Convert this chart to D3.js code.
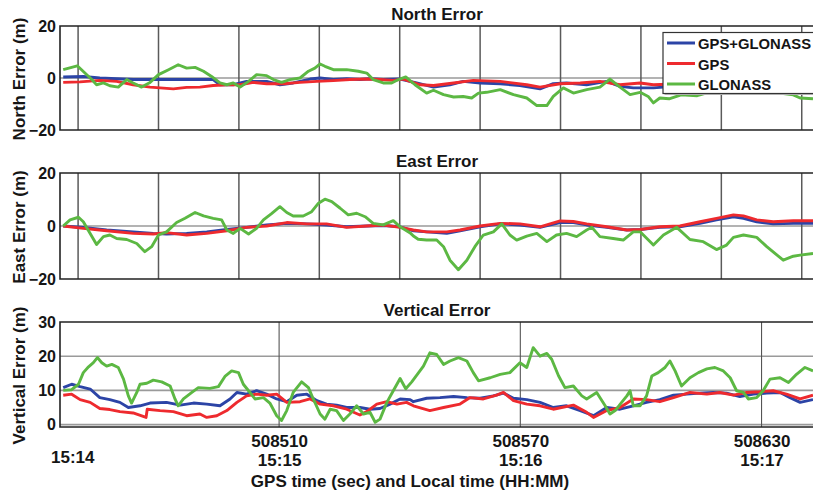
<!DOCTYPE html>
<html>
<head>
<meta charset="utf-8">
<script src="https://cdn.jsdelivr.net/npm/d3@7"></script>
<style>
body { margin: 0; background: #fff; }
svg text { font-family: "Liberation Sans", Arial, Helvetica, sans-serif; font-weight: bold; fill: #151515; }
</style>
</head>
<body>
<svg id="chart" width="813" height="492"></svg>
<script>
// GPS seconds are stored as offsets from T0
var T0 = 508455;

var seriesNames = ["GPS+GLONASS", "GPS", "GLONASS"];
var seriesColors = ["#2c44a6", "#ee2a2e", "#5cb843"];

var xTicks = [508510, 508570, 508630];
var localTimes = ["15:15", "15:16", "15:17"];
var firstLocalTime = "15:14";
var gridTimes20 = [508460, 508480, 508500, 508520, 508540, 508560, 508580, 508600, 508620, 508640];

// North error (m)
var northBoth = [[1.3,0.4],[6.3,0.6],[10.4,0],[14.6,-0.3],[18.7,-0.6],[22.9,-0.6],[25.4,-0.6],[32,-0.6],[38.6,-0.6],
  [40.3,-2.6],[43.6,-2.6],[46.9,-1.3],[51.9,-1.3],[55.2,-2.6],[58.5,-1.9],[62.7,-0.4],[65.2,0],[68.5,-0.6],[71.8,-0.3],
  [75.1,-0.6],[77.6,-0.3],[80.9,-0.6],[85.1,-0.4],[89.2,-1.9],[93.4,-3.5],[97.5,-2.6],[100.8,-1.3],[105,-1.9],[110,-2.2],
  [114.9,-2.9],[119.9,-4.2],[123.2,-2.2],[126.5,-1.9],[131.5,-2.6],[136.5,-1.3],[139.8,-3.2],[143.1,-3.8],[148.1,-3.8],
  [155,-3.0],[165,-2.5],[175,-3.0],[187.8,-2.5]];
var northGps = [[1.3,-1.7],[5.5,-1.5],[10.4,-0.9],[14.6,-1.3],[18.7,-2.6],[22.9,-3.5],[28.7,-4.2],[32,-3.6],[35.3,-3.5],
  [38.6,-2.9],[42,-2.6],[45.3,-2.6],[48.6,-1.7],[51.9,-2.2],[56.1,-2.2],[60.2,-1.7],[64.4,-1.3],[68.5,-1.0],[72.6,-0.6],
  [76.8,-0.4],[80.1,-0.6],[83.4,-0.9],[85.9,-0.4],[90.1,-2.6],[93.4,-2.9],[98.4,-1.9],[103.3,-0.9],[110,-1.3],[116.6,-2.6],
  [119.9,-3.5],[124.9,-2.2],[129.9,-1.9],[134.8,-1.3],[139.8,-2.6],[144.8,-1.9],[148.1,-2.6],[155,-2.2],[165,-2.0],
  [175,-2.4],[187.8,-2.0]];
var northGlo = [[1.3,3.2],[4.8,4.7],[8.4,-0.6],[9.6,-2.6],[11.3,-1.9],[12.9,-3.0],[15,-3.5],[17.1,-0.6],[18.7,-1.9],
  [20.8,-3.5],[22.9,-1.7],[25,1.3],[27.5,3.2],[29.9,5.1],[32,3.8],[34.1,4.1],[36.2,2.6],[38.2,0.6],[40.3,-1.9],[42,-2.6],
  [43.6,-1.9],[45.3,-3.5],[47.4,-1.3],[49.4,1.3],[51.9,0.9],[53.6,-0.6],[55.6,-1.7],[57.7,-0.6],[60.2,0],[62.3,2.6],
  [63.9,3.8],[65.2,5.4],[66.4,4.5],[68.5,3.2],[71.8,3.2],[74.7,2.6],[76.8,1.9],[78.4,-0.6],[80.9,-1.9],[83,-1.9],
  [84.7,-0.6],[86.5,0.4],[88.8,-2.6],[91.7,-5.8],[93.4,-4.7],[95.9,-6.4],[98.4,-7.3],[100.8,-7.1],[102.9,-7.7],
  [104.6,-5.8],[106.6,-5.5],[110,-4.5],[113.3,-6.4],[116.6,-7.7],[119.1,-10.6],[121.6,-10.6],[123.2,-7.1],[125.7,-3.8],
  [128.2,-5.8],[131.5,-4.5],[134.8,-3.5],[137.3,-0.4],[139.8,-3.5],[142.3,-6.4],[144.8,-5.5],[146.8,-7.1],[148.1,-9.6],
  [149.7,-7.7],[152,-8.0],[155,-6.5],[159,-6.8],[163,-5.0],[168,-4.5],[173,-5.0],[178,-5.5],[182.9,-6.5],[184.6,-7.7],
  [187.8,-8.0]];

// East error (m)
var eastBoth = [[1.3,0],[6.3,-0.5],[12.1,-1.5],[18.7,-2.2],[23.7,-2.8],[27,-3.0],[32,-2.8],[37,-2.2],[42,-1.3],
  [46.9,-0.5],[51.9,0.4],[56.9,1.0],[61.9,0.8],[66.8,0.4],[71.8,-0.3],[76.8,0],[80.9,0.2],[85.1,-0.3],[88.4,-1.8],
  [91.7,-2.2],[96.7,-2.8],[100,-1.8],[105,-0.3],[110,0.8],[114.9,0.4],[119.9,-0.5],[124.9,1.3],[128.2,1.3],[131.5,0.4],
  [136.5,-0.5],[141.5,-1.5],[144.8,-1.3],[149.7,-0.5],[154.7,-0.3],[159.7,1.0],[163.8,2.3],[168,3.5],[170.5,2.9],
  [173.8,1.6],[177.9,0.8],[182.9,1.0],[187.8,1.0]];
var eastGps = [[1.3,0],[6.3,-0.9],[12.1,-1.8],[18.7,-2.8],[23.7,-3.0],[27,-2.5],[32,-3.4],[37,-2.8],[42,-1.8],
  [46.9,-0.5],[51.9,0],[56.9,1.3],[61.9,0.8],[66.8,0.8],[71.8,-0.5],[76.8,0],[80.9,0.4],[85.1,-0.5],[88.4,-1.5],
  [91.7,-2.2],[96.7,-2.2],[100,-1.5],[105,0],[110,1.0],[114.9,0.8],[119.9,-0.3],[124.9,1.9],[128.2,1.7],[131.5,0.8],
  [136.5,-0.3],[141.5,-1.5],[144.8,-1.3],[149.7,-0.3],[154.7,0],[159.7,1.6],[163.8,2.9],[168,4.2],[170.5,3.8],
  [173.8,2.3],[177.9,1.6],[182.9,2.0],[187.8,2.0]];
var eastGlo = [[1.3,0],[3,2.3],[5.1,3.3],[6.3,1.6],[8,-2.8],[9.6,-7.0],[11.3,-4.0],[12.9,-3.4],[14.6,-4.7],[17.1,-5.1],
  [19.6,-6.6],[21.6,-9.7],[23.3,-7.8],[25,-3.4],[27,-2.2],[29.5,1.3],[31.6,2.9],[34.1,5.1],[36.2,3.8],[38.6,2.9],
  [40.7,2.3],[42,-1.5],[43.6,-2.8],[45.3,-0.9],[47.4,-3.0],[49.4,-0.9],[51.1,2.3],[53.2,4.8],[55.2,7.3],[56.9,5.1],
  [58.5,3.8],[61,3.8],[63.1,5.4],[64.8,8.6],[66.4,10.1],[68.1,9.2],[70.2,6.7],[72.2,4.2],[74.3,4.8],[76.4,3.5],
  [78.4,1.0],[80.9,0.4],[83.4,2.0],[85.1,-0.3],[87.6,-2.6],[88.4,-3.8],[89.6,-5.0],[91.7,-5.3],[94.2,-5.3],[95.9,-7.8],
  [97.5,-12.9],[99.6,-16.5],[101.7,-12.9],[103.7,-7.8],[105.8,-3.4],[108.3,-2.2],[110.4,0.8],[112.4,-3.4],[114.1,-5.3],
  [116.6,-3.8],[119.1,-2.8],[121.6,-5.9],[124,-3.4],[126.5,-2.8],[129,-4.0],[131.5,-1.5],[132.8,-0.5],[134.8,-4.0],
  [138.1,-4.7],[140.6,-5.3],[143.1,-2.2],[144.8,-2.2],[148.1,-7.2],[150.6,-3.4],[153.9,-0.5],[157.2,-5.1],[160.5,-5.9],
  [163.8,-8.9],[166.3,-7.2],[168,-4.3],[170.5,-3.4],[173.8,-4.3],[176.3,-7.8],[180.4,-12.9],[182.9,-11.4],[184.6,-11.0],
  [187.8,-10.4]];

// Vertical error (m)
var vertBoth = [[1.3,10.8],[3.4,11.8],[5.5,11.1],[8,10.4],[10.4,7.9],[12.9,7.3],[15.4,6.5],[17.5,5.0],[20.4,5.5],
  [22.9,6.3],[27,6.5],[30.4,5.7],[33.7,6.3],[37,6.0],[40.3,5.5],[42.8,7.5],[44.5,9.4],[46.9,8.9],[49.4,9.9],[51.9,8.9],
  [54.4,7.5],[56.9,6.7],[59.4,8.6],[61.9,8.9],[64.4,7.0],[66.8,6.0],[69.3,5.7],[71.8,5.0],[75.1,5.0],[77.6,4.5],
  [80.1,4.7],[82.6,6.0],[85.1,7.5],[87.6,7.3],[88.4,6.7],[91.7,7.7],[95,7.9],[98.4,8.2],[101.7,7.9],[105,7.7],[108.3,8.4],
  [110.8,9.2],[113.3,7.7],[116.6,7.3],[119.9,6.5],[123.2,5.0],[126.5,5.5],[129.9,4.1],[133.2,2.6],[136.5,5.0],
  [139.8,4.5],[143.1,5.5],[146.4,6.5],[149.7,7.3],[153.1,8.6],[156.4,8.9],[159.7,9.2],[163,9.4],[166.3,9.2],[169.6,8.2],
  [173,8.9],[176.3,9.2],[179.6,9.4],[182.1,7.9],[184.6,6.5],[187.8,7.3]];
var vertGps = [[1.3,8.6],[3.4,8.9],[5.5,7.3],[8,6.5],[10.4,4.7],[12.9,4.4],[15.4,3.8],[18.7,3.4],[21.9,2.1],[22.2,4.5],
  [25.4,4.1],[28.7,3.8],[32,2.6],[35.3,3.1],[37,2.1],[39.5,2.6],[42,4.1],[44.5,6.5],[46.9,8.4],[49.4,8.9],[51.9,8.6],
  [54.4,8.9],[56.9,6.5],[60.2,6.7],[62.7,7.5],[65.2,6.0],[68.5,5.5],[71.8,4.5],[75.1,2.8],[76.8,3.8],[79.3,6.0],
  [81.8,6.7],[84.3,6.0],[86.7,6.5],[88.4,5.5],[92.5,4.1],[95.9,5.0],[100,6.0],[102.5,7.9],[105.8,7.5],[109.1,8.6],
  [110.8,9.4],[113.3,7.0],[116.6,6.0],[119.9,5.5],[123.2,4.5],[128.2,5.7],[131.5,3.6],[133.2,2.1],[136.5,4.1],
  [139.8,5.0],[143.1,7.5],[146.4,7.3],[149.7,6.7],[153.1,7.9],[157.2,9.4],[161.4,8.9],[164.6,9.4],[168,8.6],[171.3,9.4],
  [174.6,9.6],[177.9,9.9],[181.2,8.9],[184.6,7.5],[187.8,8.6]];
var vertGlo = [[1.3,10.0],[3.4,10.2],[5.1,11.8],[6.3,15.2],[7.6,16.9],[8.8,18.1],[9.8,19.6],[10.9,18.1],[12.1,17.1],
  [13.4,17.6],[15,16.7],[16.3,13.3],[17.5,8.4],[18.3,6.3],[19.6,9.4],[20.4,11.8],[22.1,12.1],[23.7,13.0],[25.8,12.5],
  [27.9,11.3],[29.1,7.5],[29.9,5.5],[31.2,7.5],[33.3,9.4],[34.9,10.8],[37.8,10.6],[39.9,11.1],[41.6,14.2],[43.2,15.7],
  [44.9,15.2],[46.1,11.8],[47.4,9.9],[49,7.5],[51.1,7.9],[52.7,6.3],[54.4,2.6],[55.6,1.2],[56.9,4.1],[58.5,9.4],
  [60.6,12.5],[62.3,10.8],[63.5,7.5],[65.2,3.1],[66.4,1.6],[67.7,4.5],[69.3,4.1],[71,1.2],[72.6,3.1],[74.3,5.5],
  [76,3.1],[77.6,3.6],[78.9,0.7],[80.1,1.6],[81.8,6.5],[83.4,9.9],[85.1,13.5],[86.5,10.5],[88,12.5],[90.9,17.1],
  [92.5,21.0],[94.2,20.5],[95.9,17.6],[97.5,18.6],[99.6,19.6],[101.7,18.6],[103.3,15.2],[104.6,12.8],[107.5,13.7],
  [110,14.7],[112.4,15.2],[114.9,18.1],[116.6,16.7],[118.2,22.5],[119.9,20.0],[121.6,20.8],[122.8,19.1],[124.5,14.3],
  [126.1,10.8],[128.2,11.3],[130.3,8.4],[131.5,7.5],[134,9.4],[136.1,5.5],[137.3,3.1],[138.6,4.1],[140.2,6.5],
  [141.5,8.4],[142.3,9.9],[143.1,5.5],[144.8,5.5],[146.4,8.4],[147.7,14.2],[149.3,15.2],[151,16.7],[152.2,18.6],
  [153.5,15.7],[155.1,11.3],[157.2,13.7],[159.3,15.2],[161.4,16.3],[163.4,16.7],[165.5,15.7],[167.2,13.7],[168.8,9.9],
  [170.5,9.4],[171.7,7.5],[173.8,7.9],[175.4,9.9],[177.1,13.3],[179.6,13.7],[181.7,12.3],[183.7,14.7],[185.8,16.7],
  [187.8,15.7]];

var panels = [
  { title: "North Error", ylabel: "North Error (m)", top: 26, bottom: 130, domain: [-20, 20],
    yticks: [-20, 0, 20], hgrid: [0], vgrid: gridTimes20, series: [northBoth, northGps, northGlo] },
  { title: "East Error", ylabel: "East Error (m)", top: 173, bottom: 279, domain: [-20, 20],
    yticks: [-20, 0, 20], hgrid: [0], vgrid: gridTimes20, series: [eastBoth, eastGps, eastGlo] },
  { title: "Vertical Error", ylabel: "Vertical Error (m)", top: 322, bottom: 427, domain: [-0.7, 30],
    yticks: [0, 10, 20, 30], hgrid: [0, 10, 20], vgrid: xTicks, series: [vertBoth, vertGps, vertGlo] }
];

var svg = d3.select("#chart");
var left = 60, right = 830;

var x = d3.scaleLinear()
    .domain([T0 + 0.5, T0 + 187.8])
    .range([60, 813]);

panels.forEach(function(p, i) {
    var y = d3.scaleLinear().domain(p.domain).range([p.bottom, p.top]);
    var g = svg.append("g");

    g.append("clipPath").attr("id", "clip" + i)
        .append("rect")
        .attr("x", left).attr("y", p.top)
        .attr("width", right - left).attr("height", p.bottom - p.top);

    // grid
    g.append("g").selectAll("line")
        .data(p.hgrid)
        .enter().append("line")
        .attr("x1", left).attr("x2", right)
        .attr("y1", function(d) { return y(d); })
        .attr("y2", function(d) { return y(d); })
        .attr("stroke", "#9a9a9a")
        .attr("stroke-width", 1.6);

    g.append("g").selectAll("line")
        .data(p.vgrid)
        .enter().append("line")
        .attr("x1", function(d) { return x(d); })
        .attr("x2", function(d) { return x(d); })
        .attr("y1", p.top).attr("y2", p.bottom)
        .attr("stroke", i < 2 ? "#5a5a5a" : "#555")
        .attr("stroke-width", i < 2 ? 1.5 : 1.1);

    // series
    var line = d3.line()
        .x(function(d) { return x(T0 + d[0]); })
        .y(function(d) { return y(d[1]); });

    var lines = g.append("g").attr("clip-path", "url(#clip" + i + ")");
    p.series.forEach(function(s, k) {
        lines.append("path")
            .datum(s)
            .attr("d", line)
            .attr("fill", "none")
            .attr("stroke", seriesColors[k])
            .attr("stroke-width", 2.9)
            .attr("stroke-linejoin", "round");
    });

    // frame: top, left, bottom
    g.append("path")
        .attr("d", "M" + right + "," + p.top + "H" + left + "V" + p.bottom + "H" + right)
        .attr("fill", "none")
        .attr("stroke", "#222")
        .attr("stroke-width", 1.6);

    // y axis
    var ya = g.append("g")
        .attr("transform", "translate(" + left + ",0)")
        .call(d3.axisLeft(y).tickValues(p.yticks).tickSize(0).tickPadding(4));
    ya.select(".domain").remove();
    ya.attr("font-size", 16);

    // titles
    g.append("text")
        .attr("x", 437).attr("y", p.top - 6)
        .attr("text-anchor", "middle")
        .attr("font-size", 17)
        .text(p.title);

    g.append("text")
        .attr("transform", "translate(25," + ((p.top + p.bottom) / 2 + 1) + ") rotate(-90)")
        .attr("text-anchor", "middle")
        .attr("font-size", 17)
        .text(p.ylabel);
});

// x axis labels under the last panel
var xa = svg.append("g")
    .attr("transform", "translate(0,427)")
    .call(d3.axisBottom(x).tickValues(xTicks).tickSize(0).tickPadding(8).tickFormat(d3.format("d")));
xa.select(".domain").remove();
xa.attr("font-size", 17);
xa.selectAll(".tick text").append("tspan")
    .attr("x", 0).attr("dy", "1.12em")
    .text(function(d, i) { return localTimes[i]; });

svg.append("text")
    .attr("x", 51).attr("y", 463)
    .attr("font-size", 17)
    .text(firstLocalTime);

svg.append("text")
    .attr("x", 410).attr("y", 487)
    .attr("text-anchor", "middle")
    .attr("font-size", 17)
    .text("GPS time (sec) and Local time (HH:MM)");

// legend
var legend = svg.append("g").attr("transform", "translate(663,32.5)");
legend.append("rect")
    .attr("x", 1.5).attr("y", 1.5)
    .attr("width", 170).attr("height", 61)
    .attr("fill", "#bbb");
legend.append("rect")
    .attr("width", 170).attr("height", 61)
    .attr("fill", "#fff")
    .attr("stroke", "#333")
    .attr("stroke-width", 1.2);
var items = legend.selectAll(".item")
    .data(seriesNames)
    .enter().append("g")
    .attr("transform", function(d, i) { return "translate(0," + (10.5 + i * 20.5) + ")"; });
items.append("line")
    .attr("x1", 4).attr("x2", 32)
    .attr("stroke", function(d, i) { return seriesColors[i]; })
    .attr("stroke-width", 3);
items.append("text")
    .attr("x", 35).attr("y", 6)
    .attr("font-size", 14.8)
    .text(function(d) { return d; });
</script>
</body>
</html>
